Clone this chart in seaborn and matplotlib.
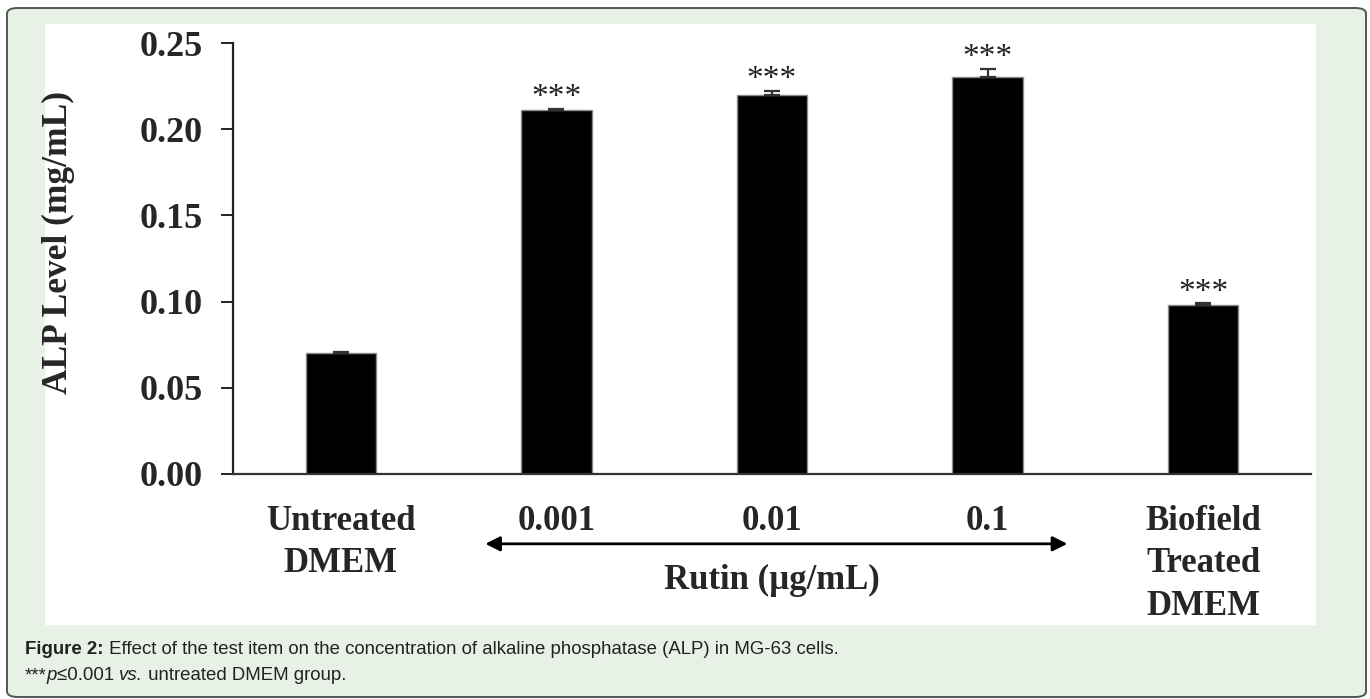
import pandas as pd
import matplotlib.pyplot as plt
import seaborn as sns
from matplotlib.patches import FancyBboxPatch, Rectangle

# data
groups = ["Untreated\nDMEM", "0.001", "0.01", "0.1", "Biofield\nTreated\nDMEM"]
alp = [0.070, 0.211, 0.220, 0.230, 0.098]
alp_err = [0.001, 0.001, 0.002, 0.005, 0.001]
signif = ["", "***", "***", "***", "***"]

df = pd.DataFrame({"group": groups, "alp": alp})

sns.set_style("ticks")
plt.rcParams["font.family"] = ["Liberation Serif", "DejaVu Serif"]

GREEN = "#e7f1e6"
W, H = 1370, 699
fig = plt.figure(figsize=(W / 100, H / 100), dpi=100)
fig.patch.set_facecolor("white")

# outer rounded frame + white chart panel (kept behind the axes)
frame = FancyBboxPatch((7 / W, 1 - 697 / H), 1359 / W, 689 / H,
                       boxstyle="round,pad=0,rounding_size=0.008",
                       transform=fig.transFigure, facecolor=GREEN,
                       edgecolor="#555555", linewidth=1.4, zorder=-3)
fig.patches.append(frame)
panel = Rectangle((45 / W, 1 - 625 / H), 1271 / W, 601 / H,
                  transform=fig.transFigure, facecolor="white", edgecolor="none",
                  zorder=-2)
fig.patches.append(panel)

ax = fig.add_axes([233 / W, 1 - 474 / H, 1078 / W, 431 / H])
ax.patch.set_visible(False)

sns.barplot(data=df, x="group", y="alp", color="black", width=0.326,
            edgecolor="#8a8a8a", linewidth=1, saturation=1, ax=ax)
ax.errorbar(range(len(groups)), alp, yerr=[[0] * len(alp), alp_err],
            fmt="none", ecolor="#333333", elinewidth=1.6, capsize=5.5,
            capthick=1.6, zorder=3)

for i, (v, e, s) in enumerate(zip(alp, alp_err, signif)):
    if s:
        ax.annotate(s, xy=(i, v + e), xytext=(0, 2), textcoords="offset points",
                    ha="center", va="baseline", fontsize=24, color="#222222")

ax.set_xlim(-0.5, 4.5)
ax.set_ylim(0, 0.25)
ax.set_yticks([0, 0.05, 0.10, 0.15, 0.20, 0.25])
ax.set_yticklabels(["0.00", "0.05", "0.10", "0.15", "0.20", "0.25"],
                   fontsize=26, fontweight="bold")
ax.tick_params(axis="y", length=9, width=1.4, pad=13, color="#222222")
ax.tick_params(axis="x", length=0, pad=22)
for lbl in ax.get_xticklabels():
    lbl.set_fontsize(25)
    lbl.set_fontweight("bold")
    lbl.set_linespacing(1.38)
    lbl.set_verticalalignment("top")

sns.despine(ax=ax)
ax.spines["left"].set_linewidth(1.6)
ax.spines["bottom"].set_linewidth(1.6)
ax.spines["left"].set_color("#222222")
ax.spines["bottom"].set_color("#333333")

ax.set_xlabel("")
ax.set_ylabel("ALP Level (mg/mL)", fontsize=25.5, fontweight="bold")
ax.yaxis.set_label_coords(-0.147, 0.536)

# concentration arrow under the Rutin groups
ax.annotate("", xy=(0.67, -0.162), xytext=(3.37, -0.162),
            xycoords=("data", "axes fraction"), textcoords=("data", "axes fraction"),
            arrowprops=dict(arrowstyle="<|-|>", color="black", lw=2,
                            mutation_scale=22, shrinkA=0, shrinkB=0))
ax.text(2.0, -0.248, "Rutin (\u00b5g/mL)", transform=ax.get_xaxis_transform(),
        ha="center", va="center", fontsize=25, fontweight="bold")

# caption
sans = ["Liberation Sans", "DejaVu Sans"]
cap_size = 13.4
fig.canvas.draw()
renderer = fig.canvas.get_renderer()


def caption_line(y_px, pieces):
    x = 25 / W
    for txt, weight, style in pieces:
        t = fig.text(x, 1 - y_px / H, txt, fontsize=cap_size, fontweight=weight,
                     fontstyle=style, family=sans, va="center", ha="left",
                     color="#222222")
        bb = t.get_window_extent(renderer=renderer)
        x += bb.width / W


caption_line(649, [
    ("Figure 2:", "bold", "normal"),
    (" Effect of the test item on the concentration of alkaline phosphatase (ALP) in MG-63 cells.",
     "normal", "normal"),
])
caption_line(676, [
    ("***", "normal", "normal"),
    ("p", "normal", "italic"),
    ("\u22640.001 ", "normal", "normal"),
    ("vs.", "normal", "italic"),
    (" untreated DMEM group.", "normal", "normal"),
])

fig.savefig("out.png", dpi=100, facecolor=fig.get_facecolor())
